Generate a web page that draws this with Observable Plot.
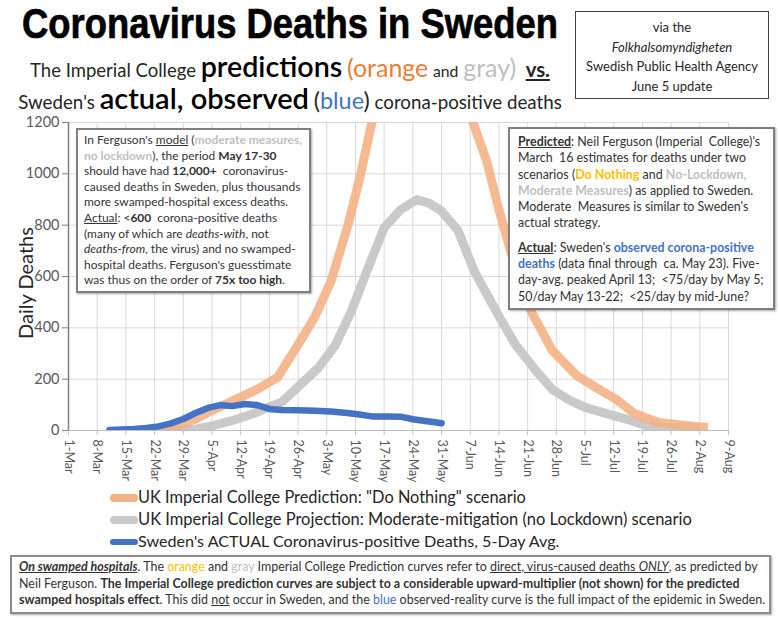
<!DOCTYPE html>
<html><head><meta charset="utf-8">
<script src="https://cdn.jsdelivr.net/npm/d3@7"></script>
<script src="https://cdn.jsdelivr.net/npm/@observablehq/plot@0.6"></script>
<style>
body{margin:0;background:#fff;}
#page{position:relative;width:780px;height:620px;overflow:hidden;font-family:Lato,"Open Sans",sans-serif;color:#404040;background:#fff;}
.abs{position:absolute;white-space:nowrap;}
.fit{display:inline-block;white-space:nowrap;}
#chart{position:absolute;left:0;top:110px;}
#titlewrap{position:absolute;left:22px;top:2px;width:536px;height:44px;}
#title{position:absolute;left:0;top:0;transform-origin:0 0;font-family:"Liberation Sans Narrow","Liberation Sans",Arial,sans-serif;font-weight:bold;font-size:42px;line-height:44px;color:#000;-webkit-text-stroke:0.7px #000;white-space:nowrap;}
#sub1{left:290px;top:49px;transform:translateX(-50%);font-size:17px;line-height:34px;color:#262626;}
#sub2{left:290px;top:81px;transform:translateX(-50%);font-size:17px;line-height:34px;color:#262626;}
.big{font-size:1.55em;color:#000;font-weight:600;}
#src{left:575px;top:11px;width:194px;height:88px;border:1.5px solid #404040;text-align:center;font-size:13px;line-height:19.5px;color:#262626;padding-top:6px;box-sizing:border-box;}
.box{position:absolute;background:#fff;border:2px solid #7f7f7f;box-shadow:1px 1px 2px rgba(0,0,0,.35);box-sizing:border-box;color:#333;}
#boxL{left:76px;top:128px;width:235px;height:165px;padding:2px 6px;font-size:11.5px;line-height:15.6px;}
#boxR{left:508px;top:127px;width:267px;height:183px;padding:5px 8px;font-size:11.5px;line-height:16.3px;}
#boxB{left:10px;top:555px;width:761px;height:59px;padding:2px 7px;font-size:10.5px;line-height:16.5px;border-color:#8c8c8c;}
.lg{color:#bfbfbf;font-weight:bold;}
.u{text-decoration:underline;}
#ylab{left:25px;top:283px;transform:translate(-50%,-50%) rotate(-90deg);font-size:20px;color:#262626;}
.leg{position:absolute;left:110px;white-space:nowrap;font-size:17px;line-height:22px;color:#262626;}
.sw{display:inline-block;width:28px;border-radius:4px;vertical-align:middle;margin-right:0px;position:relative;top:-1px;}
</style></head>
<body><div id="page">
<div id="titlewrap"><div id="title">Coronavirus Deaths in Sweden</div></div>
<div id="sub1" class="abs fit" data-w="520">The Imperial College <span class="big">predictions</span> <span style="color:#ED7D31;font-size:1.35em">(orange</span> <span style="font-size:0.85em">and</span> <span style="color:#bfbfbf;font-size:1.35em">gray)</span> &nbsp;<span class="u" style="font-weight:bold;font-size:1.1em">vs.</span></div>
<div id="sub2" class="abs fit" data-w="544">Sweden's <span class="big">actual, observed</span> <span style="font-size:1.25em">(<span style="color:#4472C4">blue</span>)</span> corona-positive deaths</div>
<div id="src" class="abs">via the<br><i>Folkhalsomyndigheten</i><br>Swedish Public Health Agency<br>June 5 update</div>
<div id="chart"></div>
<div id="ylab" class="abs">Daily Deaths</div>
<div id="boxL" class="box"><div class="fit" data-w="218">In Ferguson's <span class="u">model</span> (<span class="lg">moderate measures,</span><br><span class="lg">no lockdown</span>), the period <b>May 17-30</b><br>should have had <b>12,000+</b>&nbsp; coronavirus-<br>caused deaths in Sweden, plus thousands<br>more swamped-hospital excess deaths.<br><span class="u">Actual</span>: &lt;<b>600</b>&nbsp; corona-positive deaths<br>(many of which are <i>deaths-with</i>, not<br><i>deaths-from</i>, the virus) and no swamped-<br>hospital deaths. Ferguson's guesstimate<br>was thus on the order of <b>75x too high</b>.</div></div>
<div id="boxR" class="box"><div class="fit" data-w="246"><b class="u">Predicted</b>: Neil Ferguson (Imperial&nbsp; College)'s<br>March&nbsp; 16 estimates for deaths under two<br>scenarios (<b style="color:#FFC000">Do Nothing</b> and <span class="lg">No-Lockdown,</span><br><span class="lg">Moderate Measures</span>) as applied to Sweden.<br>Moderate&nbsp; Measures is similar to Sweden's<br>actual strategy.<div style="height:8px"></div><b class="u">Actual</b>: Sweden's <b style="color:#4472C4">observed corona-positive</b><br><b style="color:#4472C4">deaths</b> (data final through&nbsp; ca. May 23). Five-<br>day-avg. peaked April 13;&nbsp; &lt;75/day by May 5;<br>50/day May 13-22;&nbsp; &lt;25/day by mid-June?</div></div>
<div class="leg" style="top:486px"><span class="sw" style="height:8px;background:#F4B183"></span><span class="fit" data-w="388">UK Imperial College Prediction: "Do Nothing" scenario</span></div>
<div class="leg" style="top:508px"><span class="sw" style="height:8px;background:#C9C9C9"></span><span class="fit" data-w="554">UK Imperial College Projection: Moderate-mitigation (no Lockdown) scenario</span></div>
<div class="leg" style="top:530px"><span class="sw" style="height:6px;background:#4472C4"></span><span class="fit" data-w="422">Sweden's ACTUAL Coronavirus-positive Deaths, 5-Day Avg.</span></div>
<div id="boxB" class="box"><div class="fit" data-w="747"><b><i class="u">On swamped hospitals</i></b>. The <span style="color:#FFC000">orange</span> and <span style="color:#bfbfbf">gray</span> Imperial College Prediction curves refer to <span class="u">direct, virus-caused deaths <i>ONLY</i></span>, as predicted by<br>Neil Ferguson. <b>The Imperial College prediction curves are subject to a considerable upward-multiplier (not shown) for the predicted</b><br><b>swamped hospitals effect</b>. This did <span class="u">not</span> occur in Sweden, and the <span style="color:#4472C4">blue</span> observed-reality curve is the full impact of the epidemic in Sweden.</div></div>
</div>
<script>
// ---- data ----
const xTickLabels = ["1-Mar","8-Mar","15-Mar","22-Mar","29-Mar","5-Apr","12-Apr","19-Apr","26-Apr","3-May","10-May","17-May","24-May","31-May","7-Jun","14-Jun","21-Jun","28-Jun","5-Jul","12-Jul","19-Jul","26-Jul","2-Aug","9-Aug"];
const yTicks = [0, 200, 400, 600, 800, 1000, 1200];

const doNothingDates = ["2020-03-19","2020-03-22","2020-03-26","2020-03-29","2020-04-01","2020-04-04","2020-04-08","2020-04-12","2020-04-16","2020-04-21","2020-04-26","2020-04-30","2020-05-04","2020-05-08","2020-05-11","2020-05-14","2020-05-18","2020-05-22","2020-05-26","2020-05-30","2020-06-03","2020-06-07","2020-06-11","2020-06-14","2020-06-17","2020-06-22","2020-06-27","2020-07-03","2020-07-08","2020-07-13","2020-07-17","2020-07-23","2020-07-30","2020-08-04"];
const doNothingValues = [0,3,12,25,45,70,100,130,160,207,335,440,580,790,980,1200,1500,1750,1850,1750,1480,1230,1050,860,690,460,312,214,164,117,66,31,19,12];

const moderateDates = ["2020-03-24","2020-04-01","2020-04-05","2020-04-10","2020-04-15","2020-04-18","2020-04-22","2020-04-26","2020-05-01","2020-05-05","2020-05-09","2020-05-13","2020-05-17","2020-05-21","2020-05-25","2020-05-28","2020-05-31","2020-06-04","2020-06-08","2020-06-14","2020-06-18","2020-06-23","2020-06-27","2020-07-01","2020-07-05","2020-07-12","2020-07-16","2020-07-20","2020-07-26","2020-08-02"];
const moderateValues = [0,5,18,39,65,86,110,170,245,330,465,630,790,860,900,885,855,780,620,445,335,234,160,120,90,58,40,18,12,9];

const actualDates = ["2020-03-11","2020-03-14","2020-03-17","2020-03-20","2020-03-23","2020-03-26","2020-03-29","2020-04-01","2020-04-04","2020-04-07","2020-04-10","2020-04-13","2020-04-16","2020-04-19","2020-04-22","2020-04-26","2020-04-30","2020-05-04","2020-05-08","2020-05-11","2020-05-14","2020-05-18","2020-05-21","2020-05-24","2020-05-27","2020-05-29","2020-05-31"];
const actualValues = [2,4,6,10,16,28,45,68,88,99,95,103,99,84,80,79,77,74,68,62,55,55,54,44,37,33,28];

// ---- build ----
const parse = d3.utcParse("%Y-%m-%d");
const parseTick = d3.utcParse("%d-%b-%Y");
const xTickDates = xTickLabels.map(l => parseTick(l + "-2020"));
const labelByTime = new Map(xTickDates.map((d, i) => [+d, xTickLabels[i]]));
const rows = (dates, vals) => dates.map((d, i) => ({date: parse(d), value: vals[i]}));
const doNothing = rows(doNothingDates, doNothingValues);
const moderate = rows(moderateDates, moderateValues);
const actual = rows(actualDates, actualValues);

const chart = Plot.plot({
  width: 780, height: 378,
  marginTop: 12, marginBottom: 58, marginLeft: 68, marginRight: 52,
  style: {fontFamily: "Lato, sans-serif", background: "transparent", overflow: "visible"},
  x: {type: "utc", domain: [xTickDates[0], xTickDates[xTickDates.length - 1]]},
  y: {domain: [0, 1200]},
  marks: [
    Plot.gridX(xTickDates, {stroke: "#d9d9d9", strokeOpacity: 1}),
    Plot.gridY(yTicks.slice(1), {stroke: "#d9d9d9", strokeOpacity: 1}),
    Plot.ruleY([0], {stroke: "#bfbfbf", strokeWidth: 1.2}),
    Plot.ruleX([xTickDates[0]], {stroke: "#7f7f7f", strokeWidth: 1.5}),
    Plot.axisX(xTickDates, {tickFormat: d => labelByTime.get(+d), tickRotate: 90, tickSize: 5, tickPadding: 4, fontSize: 12.5, stroke: "#bfbfbf", fill: "#595959", label: null}),
    Plot.axisY(yTicks, {tickFormat: d => String(d), tickSize: 6, tickPadding: 3, fontSize: 14.5, stroke: "#7f7f7f", fill: "#595959", label: null}),
    Plot.line(moderate, {x: "date", y: "value", stroke: "#C9C9C9", strokeWidth: 9, strokeLinejoin: "round", strokeLinecap: "butt", clip: true}),
    Plot.line(doNothing, {x: "date", y: "value", stroke: "#F4B183", strokeOpacity: 0.88, strokeWidth: 9, strokeLinejoin: "round", strokeLinecap: "butt", clip: true}),
    Plot.line(actual, {x: "date", y: "value", stroke: "#4472C4", strokeWidth: 6.5, strokeLinejoin: "round", strokeLinecap: "round", clip: true})
  ]
});
document.getElementById("chart").appendChild(chart);

// fit text widths
document.querySelectorAll(".fit[data-w]").forEach(el => {
  const target = +el.dataset.w;
  const w = el.getBoundingClientRect().width;
  const fs = parseFloat(getComputedStyle(el).fontSize);
  if (w > 0) el.style.fontSize = (fs * target / w) + "px";
});
// title: condense horizontally to the reference width
const t = document.getElementById("title");
const tw = t.getBoundingClientRect().width;
if (tw > 0) t.style.transform = "scaleX(" + (536 / tw) + ")";
</script>
</body></html>
